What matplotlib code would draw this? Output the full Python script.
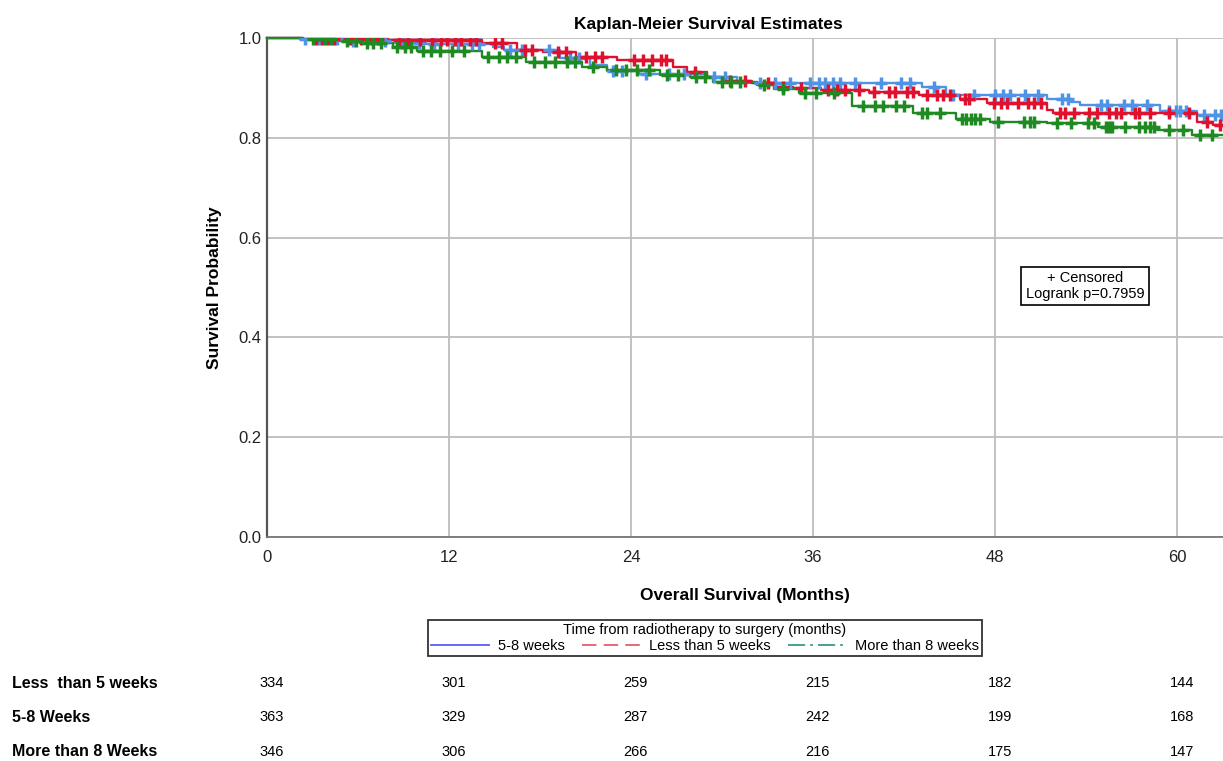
import matplotlib
matplotlib.use("Agg")
import matplotlib.pyplot as plt
from matplotlib.lines import Line2D
import matplotlib.transforms as mtransforms
import numpy as np

plt.rcParams['font.family'] = ['Liberation Sans', 'DejaVu Sans']

# ---------------- data ----------------
title = "Kaplan-Meier Survival Estimates"
x_ticks = [0, 12, 24, 36, 48, 60]
y_ticks = [0.0, 0.2, 0.4, 0.6, 0.8, 1.0]

group_names = ["5-8 weeks", "Less than 5 weeks", "More than 8 weeks"]
risk_labels = ["Less  than 5 weeks", "5-8 Weeks", "More than 8 Weeks"]
risk_less5 = [334, 301, 259, 215, 182, 144]
risk_5to8 = [363, 329, 287, 242, 199, 168]
risk_more8 = [346, 306, 266, 216, 175, 147]

blue_times = [0, 2.2, 5.0, 8.0, 10.5, 14.9, 15.6, 19.3, 21.3, 22.4, 24.5, 29.0, 31.0,
              43.2, 44.8, 51.4, 53.0, 53.6, 58.9, 61.3]
blue_surv = [1.0, 0.997, 0.994, 0.990, 0.987, 0.982, 0.976, 0.960, 0.946, 0.934, 0.928,
             0.921, 0.909, 0.902, 0.886, 0.877, 0.871, 0.866, 0.853, 0.846]
blue_cens = [2.5, 3.4, 4.6, 5.7, 7.8, 8.9, 10.0, 11.0, 12.6, 13.5, 14.0, 16.0, 16.8, 18.6,
             20.0, 20.6, 22.8, 23.4, 25.0, 26.5, 27.5, 29.5, 30.2, 32.5, 33.5, 34.5, 35.8,
             36.4, 36.8, 37.3, 37.8, 38.8, 40.5, 41.8, 42.4, 44.0, 45.2, 46.6, 48.0, 48.5,
             49.0, 50.0, 50.8, 52.4, 52.8, 55.0, 55.4, 56.5, 57.0, 58.0, 59.5, 59.9, 60.2,
             60.6, 61.8, 62.5, 62.9]

red_times = [0, 2.4, 5.0, 8.0, 14.2, 16.5, 18.2, 20.4, 23.1, 26.8, 27.7, 29.0, 30.0, 32.0,
             33.4, 34.7, 36.5, 39.7, 43.0, 45.7, 47.5, 51.4, 51.8, 61.3, 62.4]
red_surv = [1.0, 0.998, 0.997, 0.995, 0.990, 0.976, 0.972, 0.962, 0.955, 0.942, 0.932,
            0.922, 0.913, 0.909, 0.902, 0.899, 0.896, 0.891, 0.886, 0.877, 0.870, 0.856,
            0.850, 0.832, 0.825]
red_cens = [3.2, 3.6, 4.0, 4.4, 5.5, 6.2, 6.9, 7.3, 8.7, 9.3, 10.1, 10.9, 11.5, 11.9, 12.4,
            12.8, 13.4, 13.8, 15.0, 15.5, 17.0, 17.5, 19.2, 19.7, 21.0, 21.6, 22.1, 24.2,
            24.8, 25.4, 26.0, 26.3, 28.2, 30.5, 31.5, 33.0, 34.0, 35.2, 37.0, 37.6, 38.1,
            39.0, 40.0, 41.0, 41.4, 42.2, 42.6, 43.5, 44.2, 44.6, 45.0, 46.0, 46.3, 47.9,
            48.4, 48.8, 49.5, 50.2, 50.6, 51.0, 52.3, 52.6, 53.2, 54.2, 54.7, 55.5, 56.0,
            56.3, 57.2, 57.5, 58.2, 59.5, 60.8, 62.0, 62.8]

green_times = [0, 2.4, 4.5, 6.1, 8.3, 9.9, 14.2, 17.1, 20.8, 22.4, 25.9, 27.9, 29.4, 32.3,
               33.4, 35.1, 38.6, 42.6, 45.4, 47.7, 51.4, 54.8, 58.7, 61.0]
green_surv = [1.0, 0.997, 0.994, 0.990, 0.982, 0.974, 0.962, 0.952, 0.942, 0.935, 0.926,
              0.921, 0.912, 0.905, 0.897, 0.889, 0.864, 0.850, 0.838, 0.832, 0.829, 0.822,
              0.815, 0.806]
green_cens = [3.0, 3.8, 4.2, 5.3, 5.9, 6.6, 7.0, 7.5, 8.6, 9.1, 9.5, 10.3, 10.8, 11.4, 12.2,
              13.0, 14.6, 15.3, 15.8, 16.4, 17.6, 18.3, 19.0, 19.8, 20.3, 21.5, 23.0, 23.7,
              24.4, 25.2, 26.4, 27.1, 28.3, 28.9, 30.0, 30.6, 31.2, 32.8, 34.0, 35.5, 36.2,
              37.4, 39.3, 40.1, 40.6, 41.5, 42.0, 43.2, 43.5, 44.4, 45.8, 46.1, 46.4, 46.7,
              47.0, 48.2, 49.9, 50.3, 50.6, 52.1, 53.0, 54.1, 54.5, 55.3, 55.5, 55.7, 56.6,
              57.5, 57.9, 58.2, 58.5, 59.5, 60.4, 61.5, 62.3]

plot_colors = ["#4f93e6", "#e0112f", "#1f8a22"]
legend_colors = ["#5a5aff", "#e06070", "#3a9a88"]
XMAX = 63.03

# ---------------- figure ----------------
fig = plt.figure(figsize=(12.23, 7.61), dpi=100)
ax = fig.add_axes([267 / 1223, (761 - 537) / 761, (1223 - 267) / 1223, (537 - 38) / 761])

ax.set_xlim(0, XMAX)
ax.set_ylim(0, 1.0)
ax.set_xticks(x_ticks)
ax.set_yticks(y_ticks)
ax.set_yticklabels([f"{v:.1f}" for v in y_ticks])
ax.grid(True, color="#bdbdbd", linewidth=1.3)
ax.set_axisbelow(True)
ax.tick_params(length=0, labelsize=12, colors="#222222")
ax.tick_params(axis='x', pad=9)
ax.tick_params(axis='y', pad=4)
for s in ["top", "right"]:
    ax.spines[s].set_visible(False)
ax.spines["left"].set_color("#555555")
ax.spines["left"].set_linewidth(1.6)
ax.spines["bottom"].set_color("#777777")
ax.spines["bottom"].set_linewidth(1.3)

series = [(blue_times, blue_surv, blue_cens),
          (red_times, red_surv, red_cens),
          (green_times, green_surv, green_cens)]
for (t, s, c), col in zip(series, plot_colors):
    tt = list(t) + [XMAX]
    ss = list(s) + [s[-1]]
    ax.step(tt, ss, where="post", color=col, linewidth=1.7, clip_on=False, zorder=3)
    idx = np.searchsorted(np.array(t), np.array(c), side="right") - 1
    cy = np.array(s)[idx]
    ax.plot(c, cy, linestyle="none", marker="+", markersize=9, markeredgewidth=2.5,
            color=col, zorder=4)

fig.text(708 / 1223, 1 - 24 / 761, title, ha="center", va="center",
         fontsize=12.5, fontweight="bold")
ax.set_xlabel("Overall Survival (Months)", fontsize=12.5, fontweight="bold", labelpad=17)
ax.set_ylabel("Survival Probability", fontsize=12.5, fontweight="bold", labelpad=12)

# censored / logrank box
ax.text((1085 - 267) / 956, (537 - 286) / 499,
        "+ Censored\nLogrank p=0.7959", transform=ax.transAxes, ha="center", va="center",
        fontsize=10.5, linespacing=1.2,
        bbox=dict(boxstyle="square,pad=0.3", facecolor="white", edgecolor="black",
                  linewidth=1.2))

# legend
handles = [Line2D([], [], color=legend_colors[0], linestyle="-", linewidth=1.3),
           Line2D([], [], color=legend_colors[1], linestyle=(0, (8.0, 4.0)), linewidth=1.3),
           Line2D([], [], color=legend_colors[2], linestyle=(0, (9.5, 2.8, 1.5, 2.8)),
                  linewidth=1.3)]
leg = fig.legend(handles, group_names, loc="center", ncol=3,
                 bbox_to_anchor=(705 / 1223, 1 - 638 / 761),
                 title="Time from radiotherapy to surgery (months)",
                 fontsize=10.5, title_fontsize=10.5, frameon=True, fancybox=False,
                 handlelength=4.0, handletextpad=0.6, columnspacing=1.2,
                 borderpad=0.2, labelspacing=0.2, borderaxespad=0)
leg.get_frame().set_edgecolor("black")
leg.get_frame().set_linewidth(1.3)

# numbers at risk
trans = mtransforms.blended_transform_factory(ax.transData, fig.transFigure)
rows = [risk_less5, risk_5to8, risk_more8]
row_y = [683, 717, 752]
for lab, vals, yp in zip(risk_labels, rows, row_y):
    fig.text(12 / 1223, 1 - yp / 761, lab, ha="left", va="center", fontsize=11.5,
             fontweight="bold")
    for xv, v in zip(x_ticks, vals):
        ax.text(xv + 0.3, 1 - yp / 761, str(v), transform=trans, ha="center",
                va="center", fontsize=10.5, clip_on=False)

fig.savefig("out.png", dpi=100)
